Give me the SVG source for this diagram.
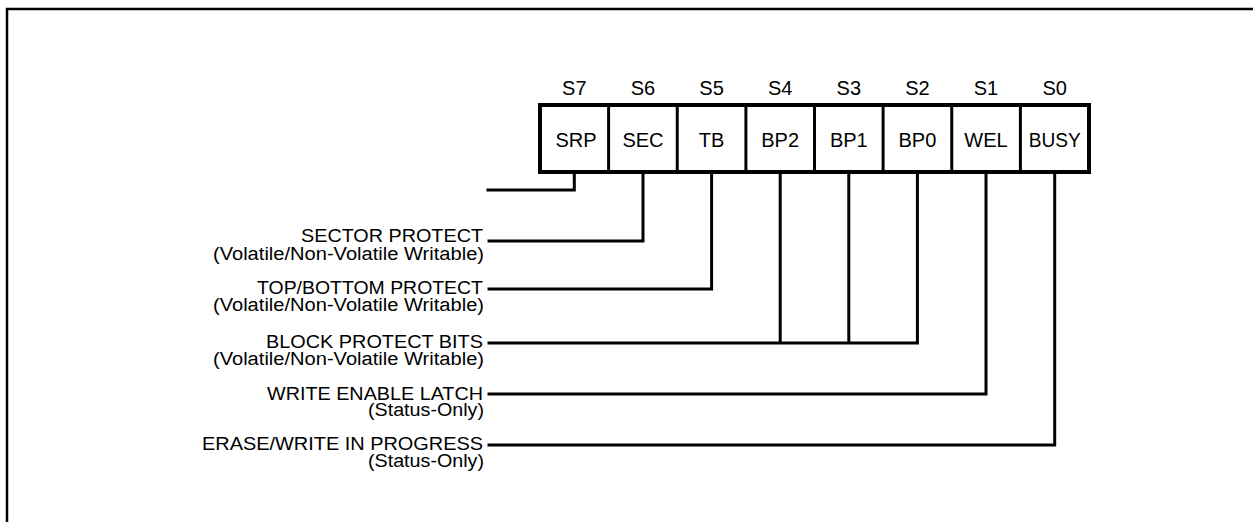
<svg xmlns="http://www.w3.org/2000/svg" width="1253" height="522" viewBox="0 0 1253 522">
<style>
text{font-family:"Liberation Sans",Arial,sans-serif;font-size:18px;fill:#000}
.hdr{text-anchor:middle;font-size:20px}
.cell{text-anchor:middle;font-size:20px}
.lbl{text-anchor:end;font-size:18px}
.conn{fill:none;stroke:#000;stroke-width:3;stroke-linejoin:miter;stroke-linecap:square}
.div{stroke:#000;stroke-width:3}
</style>
<rect width="1253" height="522" fill="#fff"/>
<path d="M7,522 V9 H1253" fill="none" stroke="#000" stroke-width="2.5"/>
<g id="register">
<rect x="540" y="105" width="549" height="67" fill="#fff" stroke="#000" stroke-width="4"/>
<line class="div" x1="608.6" y1="105" x2="608.6" y2="172"/>
<line class="div" x1="677.25" y1="105" x2="677.25" y2="172"/>
<line class="div" x1="745.9" y1="105" x2="745.9" y2="172"/>
<line class="div" x1="814.5" y1="105" x2="814.5" y2="172"/>
<line class="div" x1="883.1" y1="105" x2="883.1" y2="172"/>
<line class="div" x1="951.75" y1="105" x2="951.75" y2="172"/>
<line class="div" x1="1020.4" y1="105" x2="1020.4" y2="172"/>
</g>
<g id="bit-S7"><text class="hdr" x="574.3" y="95">S7</text><text class="cell" x="576" y="147">SRP</text></g>
<g id="bit-S6"><text class="hdr" x="643" y="95">S6</text><text class="cell" x="643" y="147">SEC</text></g>
<g id="bit-S5"><text class="hdr" x="711.6" y="95">S5</text><text class="cell" x="711.6" y="147">TB</text></g>
<g id="bit-S4"><text class="hdr" x="780.2" y="95">S4</text><text class="cell" x="780.2" y="147">BP2</text></g>
<g id="bit-S3"><text class="hdr" x="848.8" y="95">S3</text><text class="cell" x="848.8" y="147">BP1</text></g>
<g id="bit-S2"><text class="hdr" x="917.4" y="95">S2</text><text class="cell" x="917.4" y="147">BP0</text></g>
<g id="bit-S1"><text class="hdr" x="986" y="95">S1</text><text class="cell" x="986" y="147">WEL</text></g>
<g id="bit-S0"><text class="hdr" x="1054.7" y="95">S0</text><text class="cell" x="1054.7" y="147" textLength="52" lengthAdjust="spacingAndGlyphs">BUSY</text></g>
<g id="connectors">
<path class="conn" d="M574.3,173 V190 H488"/>
<path class="conn" d="M643,173 V241 H489"/>
<path class="conn" d="M711.6,173 V289 H489"/>
<path class="conn" d="M780.2,173 V343 M848.8,173 V343 M917.4,173 V343 H489"/>
<path class="conn" d="M986,173 V394 H489"/>
<path class="conn" d="M1054.7,173 V445 H489"/>
</g>
<g id="label-sector">
<text class="lbl" x="483" y="242" textLength="182" lengthAdjust="spacingAndGlyphs">SECTOR PROTECT</text>
<text class="lbl" x="484" y="260" textLength="271" lengthAdjust="spacingAndGlyphs">(Volatile/Non-Volatile Writable)</text>
</g>
<g id="label-topbottom">
<text class="lbl" x="483" y="294" textLength="226" lengthAdjust="spacingAndGlyphs">TOP/BOTTOM PROTECT</text>
<text class="lbl" x="484" y="311" textLength="271" lengthAdjust="spacingAndGlyphs">(Volatile/Non-Volatile Writable)</text>
</g>
<g id="label-block">
<text class="lbl" x="483" y="348" textLength="217" lengthAdjust="spacingAndGlyphs">BLOCK PROTECT BITS</text>
<text class="lbl" x="484" y="365" textLength="271" lengthAdjust="spacingAndGlyphs">(Volatile/Non-Volatile Writable)</text>
</g>
<g id="label-wel">
<text class="lbl" x="483" y="400" textLength="216" lengthAdjust="spacingAndGlyphs">WRITE ENABLE LATCH</text>
<text class="lbl" x="484" y="416" textLength="116" lengthAdjust="spacingAndGlyphs">(Status-Only)</text>
</g>
<g id="label-busy">
<text class="lbl" x="483" y="450" textLength="281" lengthAdjust="spacingAndGlyphs">ERASE/WRITE IN PROGRESS</text>
<text class="lbl" x="484" y="467" textLength="116" lengthAdjust="spacingAndGlyphs">(Status-Only)</text>
</g>
</svg>
